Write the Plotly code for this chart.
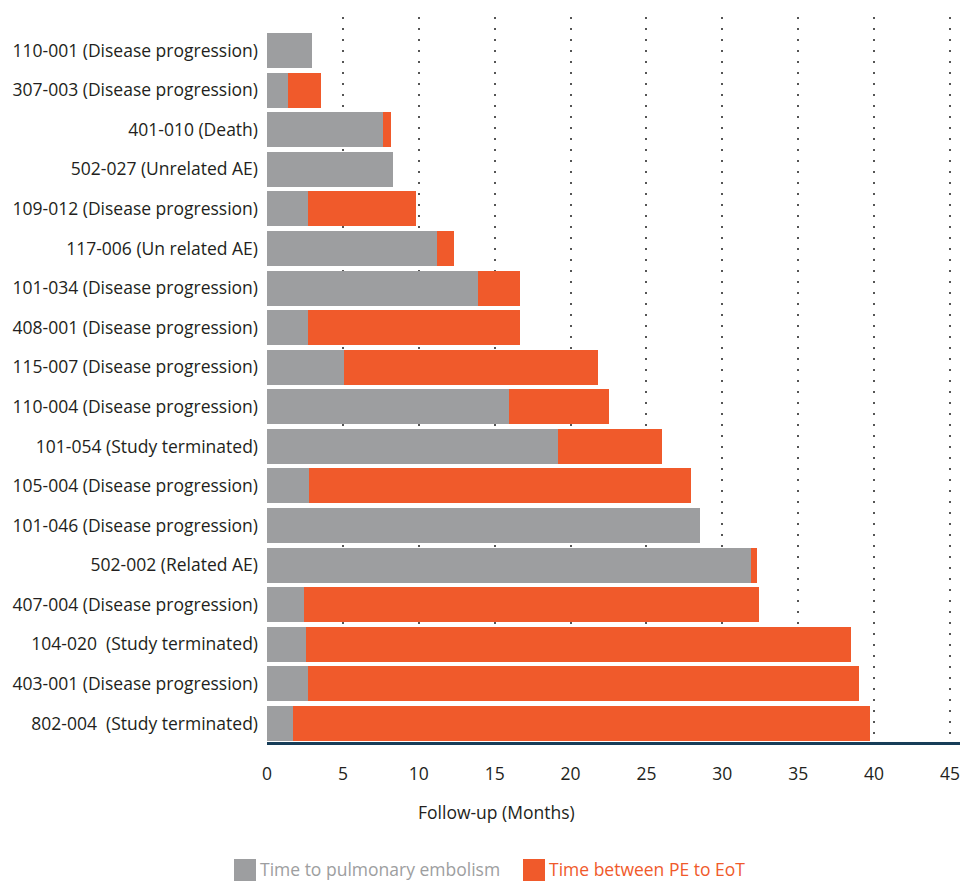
import plotly.graph_objects as go

patients = [
    "110-001 (Disease progression)",
    "307-003 (Disease progression)",
    "401-010 (Death)",
    "502-027 (Unrelated AE)",
    "109-012 (Disease progression)",
    "117-006 (Un related AE)",
    "101-034 (Disease progression)",
    "408-001 (Disease progression)",
    "115-007 (Disease progression)",
    "110-004 (Disease progression)",
    "101-054 (Study terminated)",
    "105-004 (Disease progression)",
    "101-046 (Disease progression)",
    "502-002 (Related AE)",
    "407-004 (Disease progression)",
    "104-020  (Study terminated)",
    "403-001 (Disease progression)",
    "802-004  (Study terminated)",
]
time_to_pe = [2.95, 1.37, 7.62, 8.28, 2.68, 11.17, 13.87, 2.68, 5.05, 15.97,
              19.2, 2.75, 28.55, 31.87, 2.47, 2.58, 2.73, 1.73]
total_follow_up = [2.95, 3.54, 8.15, 8.28, 9.8, 12.3, 16.7, 16.7, 21.84, 22.56,
                   26.05, 27.95, 28.55, 32.3, 32.42, 38.47, 38.98, 39.74]
pe_to_eot = [round(t - g, 2) for t, g in zip(total_follow_up, time_to_pe)]

x_ticks = [0, 5, 10, 15, 20, 25, 30, 35, 40, 45]
series_names = ["Time to pulmonary embolism", "Time between PE to EoT"]

GRAY = "#9d9ea0"
ORANGE = "#f05a2b"
FONT = "Open Sans"

W, H = 960, 881
L, R, T, B = 267, 0, 17, 139
PW, PH = W - L - R, H - T - B


def px(x):
    return (x - L) / PW


def py(y):
    return (H - B - y) / PH


fig = go.Figure()
fig.add_trace(go.Bar(
    y=patients, x=time_to_pe, orientation="h", marker_color=GRAY,
    marker_line_width=0, name=series_names[0],
))
fig.add_trace(go.Bar(
    y=patients, x=pe_to_eot, orientation="h", marker_color=ORANGE,
    marker_line_width=0, name=series_names[1],
))

# legend drawn as swatches + text
legend_shapes = []
legend_annots = []
for (sx0, tx), color, name in zip([(234, 258), (523, 547)], [GRAY, ORANGE], series_names):
    legend_shapes.append(dict(type="rect", xref="paper", yref="paper",
                              x0=px(sx0), x1=px(sx0 + 22), y0=py(859), y1=py(884),
                              fillcolor=color, line_width=0, layer="above"))
    legend_annots.append(dict(text=name, xref="paper", yref="paper",
                              x=px(tx), y=py(868.5), xanchor="left", yanchor="middle",
                              showarrow=False,
                              font=dict(size=17.5, family=FONT, color=color)))

fig.update_layout(
    width=W, height=H,
    barmode="stack", bargap=0.116,
    plot_bgcolor="white", paper_bgcolor="white",
    margin=dict(l=L, r=R, t=T, b=B),
    font=dict(family=FONT, size=17.5, color="#231f20"),
    showlegend=False,
    shapes=legend_shapes,
    annotations=[dict(text="Follow-up (Months)", xref="paper", yref="paper",
                      x=px(496), y=py(812), xanchor="center", yanchor="middle",
                      showarrow=False,
                      font=dict(size=17.5, family=FONT, color="#231f20"))] + legend_annots,
)
fig.update_xaxes(
    range=[0, 45.66], tickvals=x_ticks, ticktext=[str(v) for v in x_ticks],
    showgrid=True, gridcolor="#555555", gridwidth=2, griddash="2px,9px",
    zeroline=False, showline=True, linecolor="#173d58", linewidth=3,
    ticks="", ticklabelstandoff=14, tickfont=dict(size=17.5, family=FONT, color="#231f20"),
)
fig.update_yaxes(
    type="category", categoryorder="array", categoryarray=patients,
    range=[17.467, -0.846], showgrid=False, zeroline=False, showline=False,
    ticks="", ticklabelstandoff=8, tickfont=dict(size=17.5, family=FONT, color="#231f20"),
)

fig.write_html("out.html", config={"displayModeBar": False},
               post_script="document.body.style.margin='0';document.body.style.overflow='hidden';")
